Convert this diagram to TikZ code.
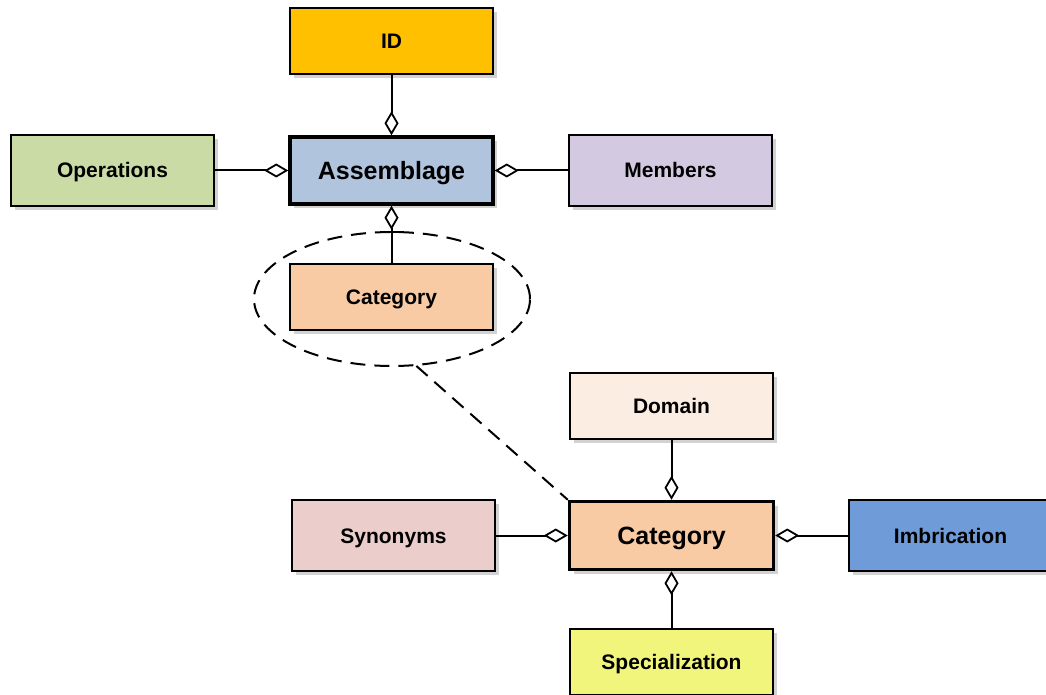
\documentclass[tikz,border=0pt]{standalone}
\usepackage{fontspec}
\setmainfont{Liberation Sans}
\usetikzlibrary{arrows.meta,shapes.geometric,shadows,calc}

\definecolor{cID}{HTML}{FFC000}
\definecolor{cAsm}{HTML}{B0C4DE}
\definecolor{cOps}{HTML}{CADBA6}
\definecolor{cMem}{HTML}{D3C9E1}
\definecolor{cCat}{HTML}{F8CBA5}
\definecolor{cDom}{HTML}{FCEDE3}
\definecolor{cSyn}{HTML}{EBCDCC}
\definecolor{cImb}{HTML}{6F9BD8}
\definecolor{cSpe}{HTML}{F2F57C}

\tikzset{
  entity/.style={draw=black, line width=2bp, minimum width=203bp, minimum height=66bp,
    inner sep=0pt, text height=15bp, text depth=0bp,
    font=\fontsize{21bp}{25bp}\selectfont\bfseries,
    drop shadow={shadow xshift=4bp, shadow yshift=-4bp, fill=black!22, opacity=0.8}},
  core/.style={entity, line width=3.5bp, text height=18bp,
    font=\fontsize{25bp}{30bp}\selectfont\bfseries},
  agg/.style={line width=2bp, {Diamond[open, fill=white, length=24bp, width=14bp, line width=1.8bp]}-},
  focusline/.style={line width=2bp, dash pattern=on 15bp off 9bp}
}

\begin{document}
\begin{tikzpicture}[x=1bp, y=-1bp]
  \useasboundingbox (0,0) rectangle (1046,695);

  % upper group: the assemblage and its parts
  \node[entity, fill=cID] (id) at (391.5,41) {ID};
  \node[core, fill=cAsm, minimum height=67bp] (asm) at (391.5,170.5) {Assemblage};
  \node[entity, fill=cOps, minimum height=71bp] (ops) at (112.5,170.5) {Operations};
  \node[entity, fill=cMem, minimum height=71bp] (mem) at (670.5,170.5) {Members};
  \node[entity, fill=cCat] (cat) at (391.5,297) {Category};

  % lower group: the category and its parts
  \node[entity, fill=cDom] (dom) at (671.5,406) {Domain};
  \node[core, fill=cCat, minimum width=204bp, minimum height=68bp] (bigcat) at (671.5,535.5) {Category};
  \node[entity, fill=cSyn, minimum height=71bp] (syn) at (393.5,535.5) {Synonyms};
  \node[entity, fill=cImb, minimum height=71bp] (imb) at (950.5,535.5) {Imbrication};
  \node[entity, fill=cSpe] (spe) at (671.5,662) {Specialization};

  % aggregation links
  \draw[agg] (asm.north) -- (id.south);
  \draw[agg] (asm.west) -- (ops.east);
  \draw[agg] (asm.east) -- (mem.west);
  \draw[agg] (asm.south) -- (cat.north);
  \draw[line width=2bp] ($(asm.south)+(-8,26)$) -- ++(16,0);

  \draw[agg] (bigcat.north) -- (dom.south);
  \draw[agg] (bigcat.west) -- (syn.east);
  \draw[agg] (bigcat.east) -- (imb.west);
  \draw[agg] (bigcat.south) -- (spe.north);

  % the highlighted category and its expansion
  \node[ellipse, draw, focusline, minimum width=276bp, minimum height=134bp, inner sep=0pt] (focus) at (392,299) {};
  \draw[focusline] (focus.-70) -- (bigcat.north west);
\end{tikzpicture}
\end{document}
